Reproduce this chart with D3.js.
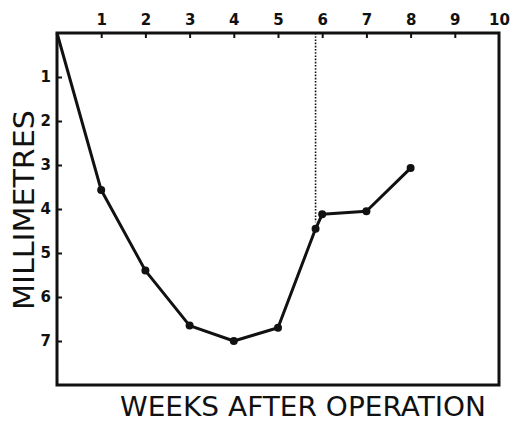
<!DOCTYPE html>
<html>
<head>
<meta charset="utf-8">
<script src="https://cdn.jsdelivr.net/npm/d3@7"></script>
<style>
  html, body { margin: 0; padding: 0; background: #fff; }
  svg { display: block; }
</style>
</head>
<body>
<svg id="chart" width="510" height="424"></svg>
<script>
// Data
const weeks = [0, 1, 2, 3, 4, 5, 5.85, 6, 7, 8];
const millimetres = [0, 3.57, 5.4, 6.65, 7.0, 6.7, 4.45, 4.12, 4.05, 3.07];
const markerFlags = [false, true, true, true, true, true, true, true, true, true];
const xTickValues = [1, 2, 3, 4, 5, 6, 7, 8, 9, 10];
const yTickValues = [1, 2, 3, 4, 5, 6, 7];
const dottedLineWeek = 5.85;
const dottedLineEnd = 4.3;
const xTitle = "WEEKS AFTER OPERATION";
const yTitle = "MILLIMETRES";

const svg = d3.select("#chart");
const margin = { left: 57, top: 33, right: 11, bottom: 39 };
const W = 510, H = 424;

const x = d3.scaleLinear().domain([0, 10]).range([margin.left, W - margin.right]);
const y = d3.scaleLinear().domain([0, 8]).range([margin.top, H - margin.bottom]);

const ink = "#111";
const font = "DejaVu Sans, sans-serif";

// Frame
svg.append("rect")
  .attr("x", x(0)).attr("y", y(0))
  .attr("width", x(10) - x(0)).attr("height", y(8) - y(0))
  .attr("fill", "none").attr("stroke", ink).attr("stroke-width", 3);

// Top axis (ticks inward)
const xAxis = d3.axisTop(x).tickValues(xTickValues).tickSize(-5).tickPadding(8)
  .tickFormat(d3.format("d"));
const gx = svg.append("g").attr("transform", `translate(0,${y(0)})`).call(xAxis);
gx.select(".domain").remove();
gx.selectAll(".tick line").attr("stroke", ink).attr("stroke-width", 2);
gx.selectAll(".tick").filter(d => d === 10).select("line").remove();
gx.selectAll("text").attr("fill", ink).attr("font-size", 15)
  .attr("font-family", font).attr("font-weight", "bold");

// Left axis (ticks inward)
const yAxis = d3.axisLeft(y).tickValues(yTickValues).tickSize(-5).tickPadding(6)
  .tickFormat(d3.format("d"));
const gy = svg.append("g").attr("transform", `translate(${x(0)},0)`).call(yAxis);
gy.select(".domain").remove();
gy.selectAll(".tick line").attr("stroke", ink).attr("stroke-width", 2);
gy.selectAll("text").attr("fill", ink).attr("font-size", 15)
  .attr("font-family", font).attr("font-weight", "bold");

// Dotted vertical line
svg.append("line")
  .attr("x1", x(dottedLineWeek)).attr("x2", x(dottedLineWeek))
  .attr("y1", y(0)).attr("y2", y(dottedLineEnd))
  .attr("stroke", ink).attr("stroke-width", 1.6)
  .attr("stroke-dasharray", "1.6,1.6");

// Data line
const pts = weeks.map((w, i) => ({ w, v: millimetres[i], m: markerFlags[i] }));
svg.append("path")
  .datum(pts)
  .attr("fill", "none").attr("stroke", ink).attr("stroke-width", 3)
  .attr("stroke-linejoin", "round")
  .attr("d", d3.line().x(d => x(d.w)).y(d => y(d.v)));

svg.selectAll("circle.pt")
  .data(pts.filter(d => d.m))
  .join("circle")
  .attr("class", "pt")
  .attr("cx", d => x(d.w)).attr("cy", d => y(d.v))
  .attr("r", 4).attr("fill", ink);

// Titles
svg.append("text")
  .attr("x", 120).attr("y", 416)
  .attr("textLength", 366).attr("lengthAdjust", "spacingAndGlyphs")
  .attr("font-family", font).attr("font-size", 26).attr("fill", ink)
  .text(xTitle);

svg.append("text")
  .attr("transform", "translate(34,310) rotate(-90)")
  .attr("textLength", 200).attr("lengthAdjust", "spacingAndGlyphs")
  .attr("font-family", font).attr("font-size", 29).attr("fill", ink)
  .text(yTitle);
</script>
</body>
</html>
